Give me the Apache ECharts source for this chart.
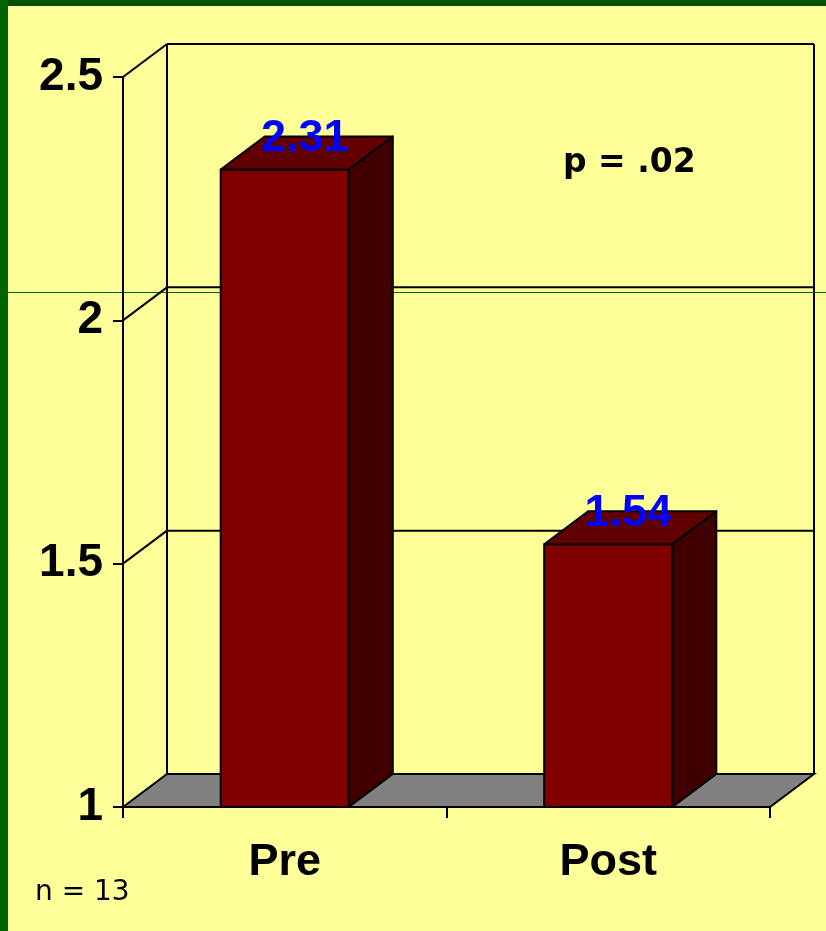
<!DOCTYPE html>
<html>
<head>
<meta charset="utf-8">
<script src="https://cdn.jsdelivr.net/npm/echarts@6/dist/echarts.min.js"></script>
<style>
html,body{margin:0;padding:0;background:#FFFF99;}
#chart{width:826px;height:931px;}
</style>
</head>
<body>
<div id="chart"></div>
<script>
const categories = ['Pre', 'Post'];
const values = [2.31, 1.54];
const valueLabels = ['2.31', '1.54'];
const yTicks = [1, 1.5, 2, 2.5];
const yMin = 1, yMax = 2.5, yStep = 0.5;
const noteText = 'p = .02';
const sampleText = 'n = 13';

const DX = 44, DY = -33;
const BAR_FRAC = 0.396;

const chart = echarts.init(document.getElementById('chart'), null, {renderer: 'canvas'});

function renderFrame(params, api) {
  const cs = params.coordSys;
  const x0 = cs.x, x1 = cs.x + cs.width;
  const yBase = api.coord([0, yMin])[1];
  const yTop = api.coord([0, yMax])[1];
  const children = [];
  children.push({
    type: 'polygon',
    shape: {points: [[x0, yBase], [x0 + DX, yBase + DY], [x1 + DX, yBase + DY], [x1, yBase]]},
    style: {fill: '#808080', stroke: '#000', lineWidth: 2}
  });
  children.push({type: 'line', shape: {x1: x0 + DX, y1: yTop + DY, x2: x0 + DX, y2: yBase + DY}, style: {stroke: '#000', lineWidth: 2}});
  children.push({type: 'line', shape: {x1: x1 + DX, y1: yTop + DY, x2: x1 + DX, y2: yBase + DY}, style: {stroke: '#000', lineWidth: 2}});
  yTicks.forEach(function (v) {
    const y = api.coord([0, v])[1];
    if (v !== yMin) {
      children.push({type: 'line', shape: {x1: x0 + DX, y1: y + DY, x2: x1 + DX, y2: y + DY}, style: {stroke: '#000', lineWidth: 2}});
      children.push({type: 'line', shape: {x1: x0, y1: y, x2: x0 + DX, y2: y + DY}, style: {stroke: '#000', lineWidth: 2}});
    }
  });
  return {type: 'group', children: children};
}

function renderBar(params, api) {
  const idx = api.value(0);
  const val = api.value(1);
  const top = api.coord([idx, val]);
  const base = api.coord([idx, yMin]);
  const w = api.size([1, 0])[0] * BAR_FRAC;
  const x = top[0] - w / 2;
  const ty = top[1], by = base[1];
  const stroke = {stroke: '#000', lineWidth: 2, lineJoin: 'round'};
  return {
    type: 'group',
    children: [
      {type: 'rect', shape: {x: x, y: ty, width: w, height: by - ty}, style: Object.assign({fill: '#800000'}, stroke)},
      {type: 'polygon', shape: {points: [[x, ty], [x + DX, ty + DY], [x + w + DX, ty + DY], [x + w, ty]]}, style: Object.assign({fill: '#600000'}, stroke)},
      {type: 'polygon', shape: {points: [[x + w, ty], [x + w + DX, ty + DY], [x + w + DX, by + DY], [x + w, by]]}, style: Object.assign({fill: '#400000'}, stroke)},
      {type: 'text', x: top[0] + 20, y: ty - 31, style: {
        text: valueLabels[params.dataIndex], fill: '#0000FF',
        font: 'bold 45px "Liberation Sans", Arial, sans-serif',
        align: 'center', verticalAlign: 'middle'
      }}
    ]
  };
}

const option = {
  backgroundColor: '#FFFF99',
  animation: false,
  grid: {left: 123, right: 56, top: 77, bottom: 124, containLabel: false},
  xAxis: {
    type: 'category',
    data: categories,
    boundaryGap: true,
    axisLine: {show: true, lineStyle: {color: '#000', width: 2}},
    axisTick: {show: true, length: 11, alignWithLabel: false, lineStyle: {color: '#000', width: 2}},
    axisLabel: {
      margin: 33, color: '#000', fontSize: 45, fontWeight: 'bold',
      fontFamily: '"Liberation Sans", Arial, sans-serif'
    },
    splitLine: {show: false}
  },
  yAxis: {
    type: 'value',
    min: yMin, max: yMax, interval: yStep,
    axisLine: {show: true, lineStyle: {color: '#000', width: 2}},
    axisTick: {show: true, length: 10, lineStyle: {color: '#000', width: 2}},
    axisLabel: {
      margin: 20, color: '#000', fontSize: 46, fontWeight: 'bold',
      fontFamily: '"Liberation Sans", Arial, sans-serif'
    },
    splitLine: {show: false}
  },
  graphic: [
    {type: 'rect', z: -10, shape: {x: 0, y: 0, width: 826, height: 6}, style: {fill: '#004F00'}},
    {type: 'rect', z: -10, shape: {x: 0, y: 0, width: 8, height: 931}, style: {fill: '#006400'}},
    {type: 'line', z: -10, shape: {x1: 8, y1: 292.5, x2: 826, y2: 292.5}, style: {stroke: '#006400', lineWidth: 1}},
    {type: 'text', z: 10, left: 563, top: 147, style: {
      text: noteText, fill: '#000', font: 'bold 33px "DejaVu Sans", Verdana, sans-serif'
    }},
    {type: 'text', z: 10, left: 35, top: 879, style: {
      text: sampleText, fill: '#000', font: '28px "DejaVu Sans", Verdana, sans-serif'
    }}
  ],
  series: [
    {type: 'custom', z: 1, renderItem: renderFrame, data: [[0, yMin]], silent: true, clip: false},
    {type: 'custom', z: 3, renderItem: renderBar, data: values.map(function (v, i) { return [i, v]; }), clip: false}
  ]
};
chart.setOption(option);
</script>
</body>
</html>
